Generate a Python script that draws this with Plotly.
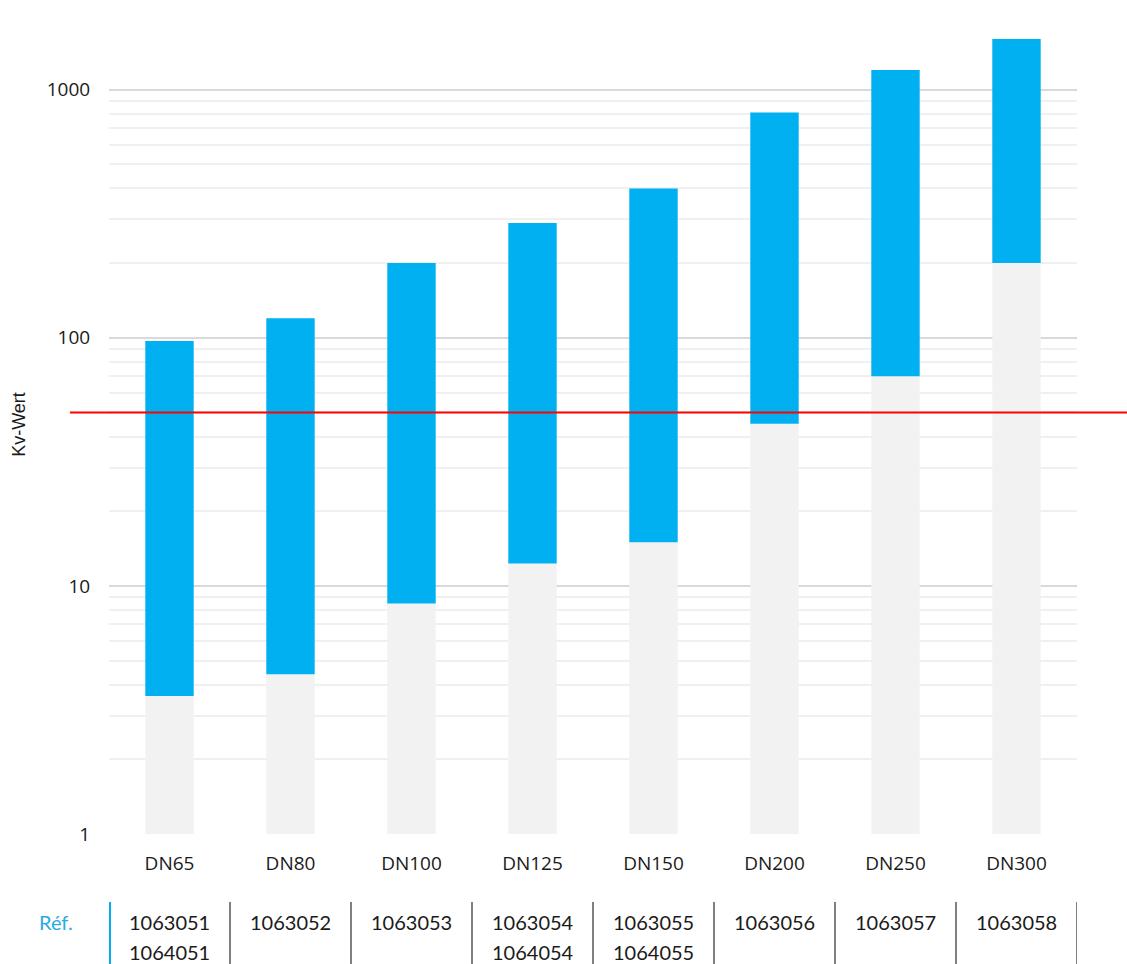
import plotly.graph_objects as go

categories = ["DN65", "DN80", "DN100", "DN125", "DN150", "DN200", "DN250", "DN300"]
kv_min = [3.6, 4.4, 8.5, 12.3, 15, 45, 70, 200]
kv_max = [97, 120, 200, 290, 400, 810, 1200, 1600]
ref_line_value = 50
ref_label = "Réf."
refs = [
    ["1063051", "1064051"],
    ["1063052"],
    ["1063053"],
    ["1063054", "1064054"],
    ["1063055", "1064055"],
    ["1063056"],
    ["1063057"],
    ["1063058"],
]
y_major = [1, 10, 100, 1000]
y_minor = [2, 3, 4, 5, 6, 7, 8, 9, 20, 30, 40, 50, 60, 70, 80, 90,
           200, 300, 400, 500, 600, 700, 800, 900, 2000]

BLUE = "#00b0f0"
GRAY = "#f2f2f2"
AXIS_FONT = "Open Sans"
TABLE_FONT = "Lato"

fig = go.Figure()
fig.add_trace(go.Bar(x=categories, y=kv_min, marker_color=GRAY, width=0.4,
                     marker_line_width=0, showlegend=False))
fig.add_trace(go.Bar(x=categories, y=[b - a for a, b in zip(kv_min, kv_max)],
                     base=kv_min, marker_color=BLUE, width=0.4,
                     marker_line_width=0, showlegend=False))

fig.add_shape(type="line", xref="paper", yref="y", x0=-0.0403, x1=1.06,
              y0=ref_line_value, y1=ref_line_value,
              line=dict(color="#ff0000", width=2), layer="above")

# table below the chart
n = len(categories)
y_top = -0.083
y_bot = -0.17
fig.add_shape(type="line", xref="x", yref="paper", x0=-0.5, x1=-0.5,
              y0=y_top, y1=y_bot, line=dict(color=BLUE, width=4))
for i in range(n):
    fig.add_shape(type="line", xref="x", yref="paper", x0=i + 0.5, x1=i + 0.5,
                  y0=y_top, y1=y_bot, line=dict(color="#808080", width=2))
    for j, r in enumerate(refs[i]):
        fig.add_annotation(x=i - 0.5, xref="x", xanchor="left", xshift=18,
                           y=-0.107 - j * 0.0366, yref="paper", yanchor="middle",
                           text=r, showarrow=False,
                           font=dict(family=TABLE_FONT, size=20, color="#1a1a1a"))
fig.add_annotation(x=-0.055, xref="paper", xanchor="center",
                   y=-0.107, yref="paper", yanchor="middle",
                   text=ref_label, showarrow=False,
                   font=dict(family=TABLE_FONT, size=20, color="#29abe2"))

fig.update_layout(
    width=1127, height=964,
    margin=dict(l=109, r=50, t=15, b=130, autoexpand=False),
    plot_bgcolor="white", paper_bgcolor="white",
    barmode="overlay",
    font=dict(family=AXIS_FONT, color="#1a1a1a"),
    xaxis=dict(showgrid=False, zeroline=False, showline=False, ticks="",
               tickfont=dict(size=19, family=AXIS_FONT), ticklabelstandoff=16,
               range=[-0.5, n - 0.5]),
    yaxis=dict(type="log", range=[0, 3.30103],
               tickmode="array", tickvals=y_major, ticktext=[str(v) for v in y_major],
               showgrid=True, gridcolor="#d9d9d9", gridwidth=2,
               zeroline=False, showline=False,
               ticks="outside", ticklen=14, tickcolor="rgba(0,0,0,0)",
               tickfont=dict(size=19, family=AXIS_FONT),
               minor=dict(tickmode="array", tickvals=y_minor, showgrid=True,
                          gridcolor="#f0f0f0", gridwidth=1.5, ticks=""),
               title=dict(text="Kv-Wert", font=dict(size=18, family="Liberation Sans"),
                          standoff=16)),
)

fig.write_html("out.html", config={"displayModeBar": False},
               post_script="document.body.style.margin='0px';")
